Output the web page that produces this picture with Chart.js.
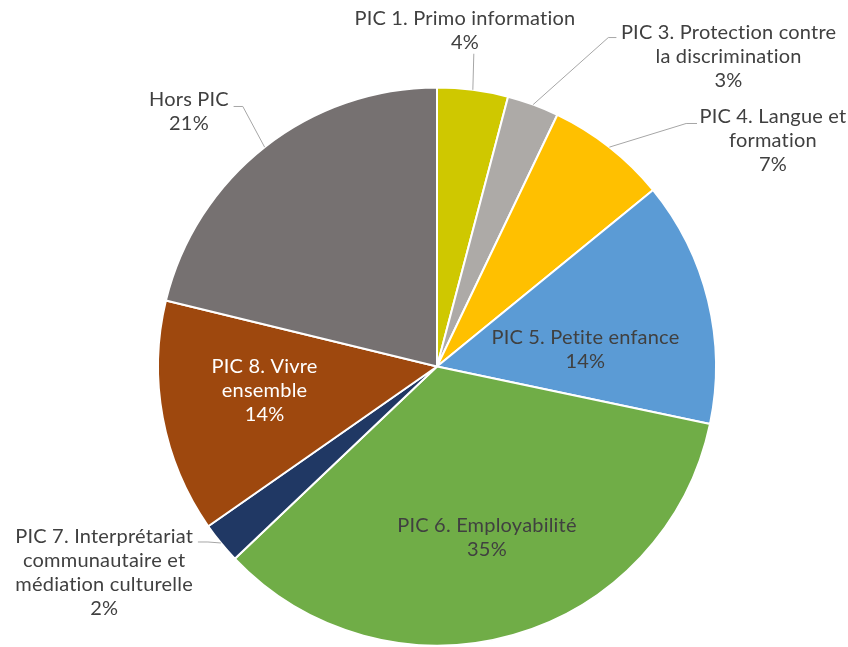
<!DOCTYPE html>
<html lang="fr">
<head>
  <meta charset="UTF-8" />
  <title>Répartition par PIC</title>
  <script src="https://cdn.jsdelivr.net/npm/chart.js"></script>
  <style>
    body { margin: 0; background: #fff; }
    #wrap { width: 848px; height: 647px; position: relative; }
  </style>
</head>
<body>
  <div id="wrap">
    <canvas id="graphique"></canvas>
  </div>

  <script>
    // Données (parts en %)
    const categories = [
      ["PIC 1. Primo information"],
      ["PIC 3. Protection contre", "la discrimination"],
      ["PIC 4. Langue et", "formation"],
      ["PIC 5. Petite enfance"],
      ["PIC 6. Employabilité"],
      ["PIC 7. Interprétariat", "communautaire et", "médiation culturelle"],
      ["PIC 8. Vivre", "ensemble"],
      ["Hors PIC"]
    ];
    const valeurs = [4.1, 3.0, 7.0, 14.2, 34.6, 2.4, 13.5, 21.2];
    const couleurs = ["#CFC800", "#ADAAA7", "#FFC000", "#5B9BD5", "#70AD47", "#203864", "#9E480E", "#767171"];

    // Placement des étiquettes (en fraction du rayon, depuis le centre)
    const etiquettes = [
      { texte: [0.100, -1.204], guide: [[0.132, -1.121]] },
      { texte: [1.045, -1.1125], guide: [[0.614, -1.179], [0.643, -1.179]] },
      { texte: [1.204, -0.811], guide: [[0.893, -0.871], [0.932, -0.871]] },
      { texte: [0.532, -0.0625] },
      { texte: [0.179, 0.614] },
      { texte: [-1.193, 0.7375], guide: [[-0.821, 0.629], [-0.857, 0.629]] },
      { texte: [-0.618, 0.086], couleur: "#FFFFFF" },
      { texte: [-0.889, -0.9125], guide: [[-0.696, -0.932], [-0.729, -0.932]] }
    ];

    const total = valeurs.reduce((a, b) => a + b, 0);

    const pluginEtiquettes = {
      id: "etiquettes",
      afterDatasetsDraw(chart) {
        const ctx = chart.ctx;
        const arcs = chart.getDatasetMeta(0).data;
        ctx.save();
        ctx.font = "20px Lato";
        ctx.letterSpacing = "0.2px"; // évite aussi les ligatures "ti"
        ctx.textAlign = "center";
        ctx.textBaseline = "middle";
        arcs.forEach((arc, i) => {
          const { x, y, startAngle, endAngle, outerRadius } = arc.getProps(["x", "y", "startAngle", "endAngle", "outerRadius"], true);
          const R = outerRadius;
          const cfg = etiquettes[i];
          if (cfg.guide) {
            const mid = (startAngle + endAngle) / 2;
            ctx.beginPath();
            ctx.moveTo(x + Math.cos(mid) * R, y + Math.sin(mid) * R);
            cfg.guide.forEach(p => ctx.lineTo(x + p[0] * R, y + p[1] * R));
            ctx.strokeStyle = "#A6A6A6";
            ctx.lineWidth = 1;
            ctx.stroke();
          }
          const lignes = [...categories[i], Math.round(valeurs[i] / total * 100) + "%"];
          const tx = x + cfg.texte[0] * R;
          const ty = y + cfg.texte[1] * R;
          const h = 24;
          ctx.fillStyle = cfg.couleur || "#404040";
          lignes.forEach((l, k) => {
            ctx.fillText(l, tx, ty + (k - (lignes.length - 1) / 2) * h);
          });
        });
        ctx.restore();
      }
    };

    new Chart(document.getElementById("graphique"), {
      type: "pie",
      data: {
        labels: categories,
        datasets: [{
          data: valeurs,
          backgroundColor: couleurs,
          borderColor: "#FFFFFF",
          borderWidth: 2
        }]
      },
      options: {
        responsive: true,
        maintainAspectRatio: false,
        animation: false,
        layout: { padding: { top: 86, bottom: 0, left: 157, right: 131 } },
        plugins: {
          legend: { display: false },
          tooltip: { enabled: false }
        }
      },
      plugins: [pluginEtiquettes]
    });
  </script>
</body>
</html>
